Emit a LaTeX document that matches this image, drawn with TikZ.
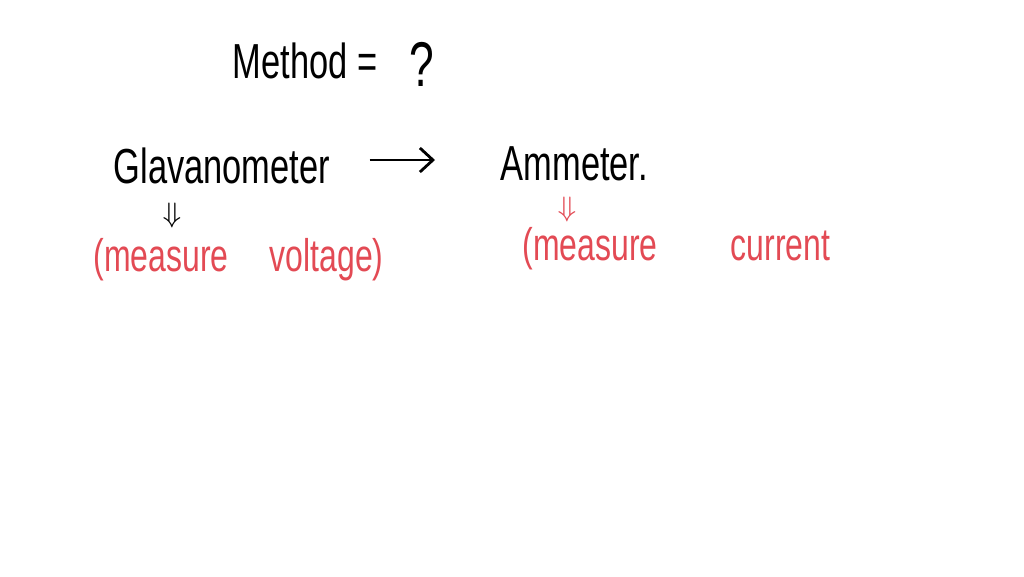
\documentclass[tikz,border=0pt]{standalone}
\usepackage{fontspec}
\usepackage{amssymb}
\usetikzlibrary{arrows.meta}
\newfontfamily\handfont[FakeStretch=0.7]{Liberation Sans}
\definecolor{penred}{rgb}{0.89, 0.29, 0.33}

\begin{document}
\begin{tikzpicture}[
    hand/.style={inner sep=0pt, font=\handfont\fontsize{14}{16}\selectfont},
    redhand/.style={hand, text=penred, font=\handfont\fontsize{13}{15}\selectfont},
    downmark/.style={inner sep=0pt, font=\footnotesize},
  ]
		  \fill[white] (0,0) rectangle (10.24,5.76);
		  \useasboundingbox (0,0) rectangle (10.24,5.76);
		  % question line
		  \node [hand, anchor=base west] (method) at (2.32,4.98) {Method =};
		  \node [hand, anchor=base, font=\handfont\fontsize{18}{20}\selectfont] (quest) at (4.22,4.90) {?};
		  % the two meters
		  \node [hand, anchor=base west] (glav) at (1.13,3.93) {Glavanometer};
		  \node [hand, anchor=base west] (amm) at (5.00,3.96) {Ammeter.};
		  \draw [thick, -{Straight Barb[length=1.3mm, width=2.4mm]}, shorten <=3.9mm, shorten >=6.5mm] (glav.east |- 0,4.16) -- (amm.west |- 0,4.16);
		  % what each one does
		  \node [downmark] (glavdown) at (1.72,3.61) {$\Downarrow$};
		  \node [downmark, text=penred] (ammdown) at (5.67,3.67) {$\Downarrow$};
		  \node [redhand, anchor=base west] (volt) at (0.93,3.05) {(measure\hspace{0.9em}voltage)};
		  \node [redhand, anchor=base west] (curr) at (5.22,3.16) {(measure\hspace{1.6em}current};
	  \end{tikzpicture}
\end{document}
